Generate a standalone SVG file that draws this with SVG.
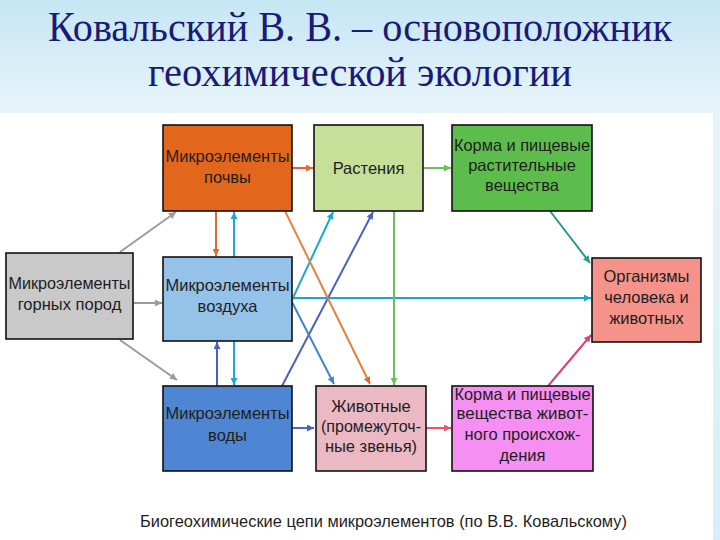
<svg xmlns="http://www.w3.org/2000/svg" width="720" height="540" viewBox="0 0 720 540">
<defs>
<linearGradient id="bg" x1="0" y1="0" x2="0" y2="1">
<stop offset="0" stop-color="#c6e6f4"/>
<stop offset="0.2" stop-color="#e6f4fa"/>
<stop offset="1" stop-color="#d8eef8"/>
</linearGradient>
<marker id="m-gray" viewBox="0 0 10 10" refX="10" refY="5" markerWidth="9" markerHeight="7" markerUnits="userSpaceOnUse" orient="auto"><path d="M0,0 L10,5 L0,10 z" fill="#9b9b9b"/></marker>
<marker id="m-orange" viewBox="0 0 10 10" refX="10" refY="5" markerWidth="9" markerHeight="7" markerUnits="userSpaceOnUse" orient="auto"><path d="M0,0 L10,5 L0,10 z" fill="#e36a2c"/></marker>
<marker id="m-cyan" viewBox="0 0 10 10" refX="10" refY="5" markerWidth="9" markerHeight="7" markerUnits="userSpaceOnUse" orient="auto"><path d="M0,0 L10,5 L0,10 z" fill="#1ea6d6"/></marker>
<marker id="m-dblue" viewBox="0 0 10 10" refX="10" refY="5" markerWidth="9" markerHeight="7" markerUnits="userSpaceOnUse" orient="auto"><path d="M0,0 L10,5 L0,10 z" fill="#4b5fc4"/></marker>
<marker id="m-mblue" viewBox="0 0 10 10" refX="10" refY="5" markerWidth="9" markerHeight="7" markerUnits="userSpaceOnUse" orient="auto"><path d="M0,0 L10,5 L0,10 z" fill="#3f86c8"/></marker>
<marker id="m-green" viewBox="0 0 10 10" refX="10" refY="5" markerWidth="9" markerHeight="7" markerUnits="userSpaceOnUse" orient="auto"><path d="M0,0 L10,5 L0,10 z" fill="#6cc05a"/></marker>
<marker id="m-teal" viewBox="0 0 10 10" refX="10" refY="5" markerWidth="9" markerHeight="7" markerUnits="userSpaceOnUse" orient="auto"><path d="M0,0 L10,5 L0,10 z" fill="#2a9a8a"/></marker>
<marker id="m-crimson" viewBox="0 0 10 10" refX="10" refY="5" markerWidth="9" markerHeight="7" markerUnits="userSpaceOnUse" orient="auto"><path d="M0,0 L10,5 L0,10 z" fill="#d8407a"/></marker>
<marker id="m-red" viewBox="0 0 10 10" refX="10" refY="5" markerWidth="9" markerHeight="7" markerUnits="userSpaceOnUse" orient="auto"><path d="M0,0 L10,5 L0,10 z" fill="#f0506a"/></marker>
</defs>
<style>
.box{stroke:#111;stroke-width:1.6}
.t{font-family:"Liberation Sans",Arial,sans-serif;font-size:16.5px;fill:#1e1e1e;text-anchor:middle}
.title{font-family:"Liberation Serif","Times New Roman",serif;font-size:42px;fill:#1a1a78;text-anchor:middle}
.cap{font-family:"Liberation Sans",Arial,sans-serif;font-size:17px;fill:#1e1e1e}
.c{fill:none;stroke-width:2}
</style>
<rect x="0" y="0" width="720" height="540" fill="url(#bg)"/>
<rect x="0" y="113" width="713" height="427" fill="#ffffff"/>
<text class="title" x="360" y="41" textLength="624" lengthAdjust="spacingAndGlyphs">Ковальский В. В. – основоположник</text>
<text class="title" x="360" y="86" textLength="424" lengthAdjust="spacingAndGlyphs">геохимической экологии</text>

<g id="connectors">
<line class="c" x1="292" y1="168" x2="313" y2="168" stroke="#e8603a" marker-end="url(#m-orange)"/>
<line class="c" x1="423" y1="168" x2="451" y2="168" stroke="#6cc05a" marker-end="url(#m-green)"/>
<line class="c" x1="120" y1="252" x2="176" y2="212" stroke="#9b9b9b" marker-end="url(#m-gray)"/>
<line class="c" x1="134" y1="303" x2="162" y2="303" stroke="#9b9b9b" stroke-width="3" marker-end="url(#m-gray)"/>
<line class="c" x1="120" y1="340" x2="177" y2="380" stroke="#9b9b9b" marker-end="url(#m-gray)"/>
<line class="c" x1="216" y1="211" x2="216" y2="256" stroke="#e36a2c" stroke-width="2.5" marker-end="url(#m-orange)"/>
<line class="c" x1="234" y1="257" x2="234" y2="212" stroke="#1ea6d6" stroke-width="2.5" marker-end="url(#m-cyan)"/>
<line class="c" x1="217" y1="386" x2="217" y2="342" stroke="#4b5fc4" stroke-width="2.5" marker-end="url(#m-dblue)"/>
<line class="c" x1="234" y1="341" x2="234" y2="385" stroke="#1ea6d6" stroke-width="2.5" marker-end="url(#m-cyan)"/>
<line class="c" x1="292" y1="298" x2="591" y2="298" stroke="#1ea6c8" stroke-width="2.5" marker-end="url(#m-cyan)"/>
<line class="c" x1="394" y1="211" x2="394" y2="385" stroke="#6cc05a" stroke-width="2.5" marker-end="url(#m-green)"/>
<line class="c" x1="292" y1="300" x2="333" y2="212" stroke="#1ea6d6" marker-end="url(#m-cyan)"/>
<line class="c" x1="282" y1="386" x2="373" y2="212" stroke="#4b5fc4" marker-end="url(#m-dblue)"/>
<line class="c" x1="292" y1="302" x2="334" y2="384" stroke="#3f86c8" marker-end="url(#m-mblue)"/>
<line class="c" x1="285" y1="211" x2="370" y2="384" stroke="#e8803c" marker-end="url(#m-orange)"/>
<line class="c" x1="550" y1="211" x2="590" y2="263" stroke="#2a9a8a" marker-end="url(#m-teal)"/>
<line class="c" x1="548" y1="386" x2="591" y2="335" stroke="#d8407a" marker-end="url(#m-crimson)"/>
<line class="c" x1="292" y1="428" x2="314" y2="428" stroke="#4a6cc0" stroke-width="2.5" marker-end="url(#m-dblue)"/>
<line class="c" x1="426" y1="428" x2="451" y2="428" stroke="#f0506a" stroke-width="2.5" marker-end="url(#m-red)"/>
</g>

<g id="soil">
<rect class="box" x="163" y="125" width="129" height="86" fill="#e2661c"/>
<text class="t" x="227.5" y="162" textLength="124" lengthAdjust="spacingAndGlyphs">Микроэлементы</text>
<text class="t" x="227.5" y="183">почвы</text>
</g>
<g id="plants">
<rect class="box" x="314" y="125" width="109" height="86" fill="#c6e09a"/>
<text class="t" x="368.5" y="174">Растения</text>
</g>
<g id="feed-plant">
<rect class="box" x="452" y="125" width="140" height="86" fill="#5dbd4c"/>
<text class="t" x="522" y="151" textLength="136" lengthAdjust="spacingAndGlyphs">Корма и пищевые</text>
<text class="t" x="522" y="171">растительные</text>
<text class="t" x="522" y="191">вещества</text>
</g>
<g id="rocks">
<rect class="box" x="6" y="253" width="127" height="86" fill="#c9c9c9"/>
<text class="t" x="69.5" y="289" textLength="122" lengthAdjust="spacingAndGlyphs">Микроэлементы</text>
<text class="t" x="69.5" y="310">горных пород</text>
</g>
<g id="air">
<rect class="box" x="163" y="257" width="129" height="84" fill="#94c2e9"/>
<text class="t" x="227.5" y="291" textLength="124" lengthAdjust="spacingAndGlyphs">Микроэлементы</text>
<text class="t" x="227.5" y="312">воздуха</text>
</g>
<g id="organisms">
<rect class="box" x="592" y="258" width="109" height="84" fill="#f5938b"/>
<text class="t" x="646.5" y="282">Организмы</text>
<text class="t" x="646.5" y="303">человека и</text>
<text class="t" x="646.5" y="324">животных</text>
</g>
<g id="water">
<rect class="box" x="163" y="386" width="129" height="85" fill="#4f86d3"/>
<text class="t" x="227.5" y="419" textLength="124" lengthAdjust="spacingAndGlyphs">Микроэлементы</text>
<text class="t" x="227.5" y="441">воды</text>
</g>
<g id="animals">
<rect class="box" x="316" y="386" width="110" height="85" fill="#ebb9c4"/>
<text class="t" x="371" y="412">Животные</text>
<text class="t" x="371" y="432" textLength="100" lengthAdjust="spacingAndGlyphs">(промежуточ-</text>
<text class="t" x="371" y="452">ные звенья)</text>
</g>
<g id="feed-animal">
<rect class="box" x="452" y="386" width="141" height="85" fill="#f58ff1"/>
<text class="t" x="522.5" y="400" textLength="136" lengthAdjust="spacingAndGlyphs">Корма и пищевые</text>
<text class="t" x="522.5" y="419" textLength="132" lengthAdjust="spacingAndGlyphs">вещества живот-</text>
<text class="t" x="522.5" y="440">ного происхож-</text>
<text class="t" x="522.5" y="461">дения</text>
</g>
<text class="cap" x="140" y="527" textLength="487" lengthAdjust="spacingAndGlyphs">Биогеохимические цепи микроэлементов (по В.В. Ковальскому)</text>
</svg>
